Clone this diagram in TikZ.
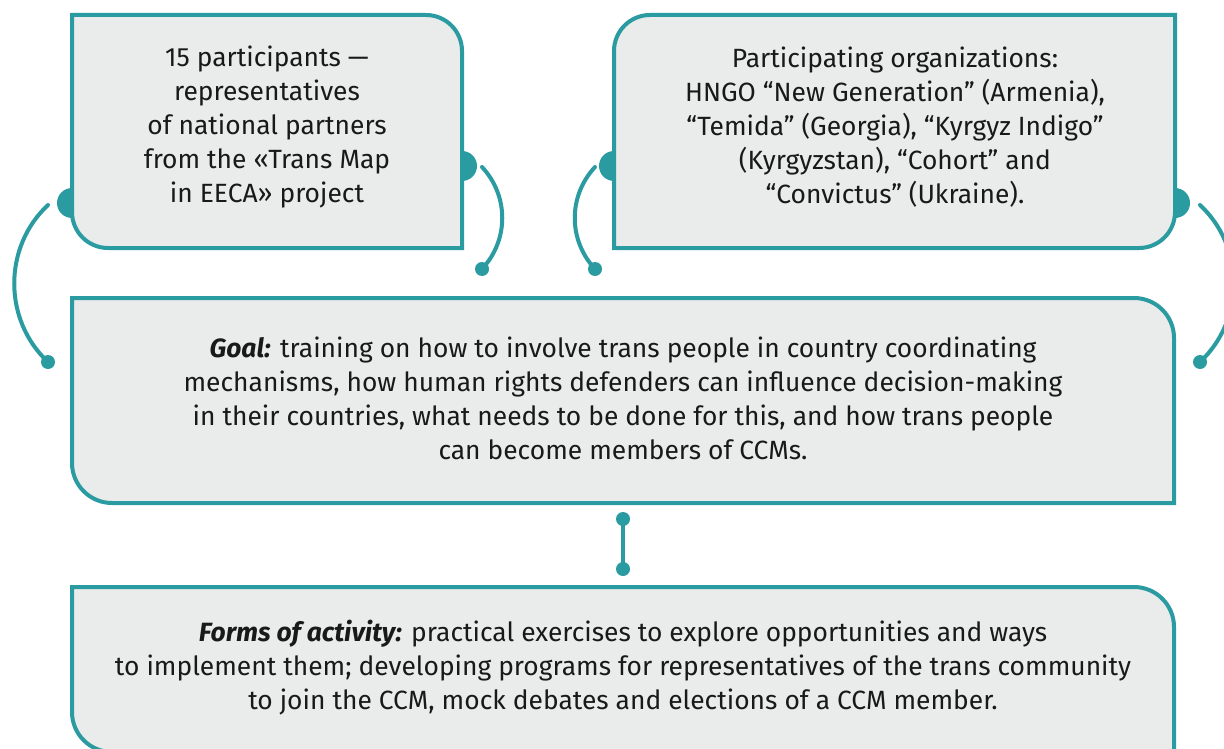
\documentclass[tikz,border=0pt]{standalone}
\usepackage{fontspec}
\setmainfont{Fira Sans}
\definecolor{tealline}{HTML}{2A9BA0}
\definecolor{boxgray}{HTML}{EAEBEB}
\tikzset{
  box/.style={draw=tealline, fill=boxgray, line width=3pt},
  link/.style={draw=tealline, line width=3pt, line cap=round},
  txt/.style={align=center, text=black!90, font=\fontsize{19.8}{25.5}\selectfont}
}

\begin{document}
\begin{tikzpicture}[x=0.75pt,y=-0.75pt]
	\useasboundingbox (0,0) rectangle (1224,749);
	% bumps on the box edges
	\fill[tealline] (72,203) circle[radius=15];
	\fill[tealline] (462,166) circle[radius=15];
	\fill[tealline] (614,166) circle[radius=15];
	\fill[tealline] (1175,203) circle[radius=15];
	% boxes
	\draw[box] (72,15) -- (426,15) arc[start angle=-90,end angle=0,radius=36] -- (462,248) -- (108,248) arc[start angle=90,end angle=180,radius=36] -- cycle;
	\draw[box] (650,15) -- (1175,15) -- (1175,212) arc[start angle=0,end angle=90,radius=36] -- (614,248) -- (614,51) arc[start angle=180,end angle=270,radius=36] -- cycle;
	\draw[box] (72,298) -- (1134,298) arc[start angle=-90,end angle=0,radius=40] -- (1174,503) -- (112,503) arc[start angle=90,end angle=180,radius=40] -- cycle;
	\draw[box] (72,587) -- (1134,587) arc[start angle=-90,end angle=0,radius=40] -- (1174,752) -- (112,752) arc[start angle=90,end angle=180,radius=40] -- cycle;
	% texts
	\node[txt] (parts) at (267,127) {15 participants —\\representatives\\of national partners\\from the «Trans Map\\in EECA» project};
	\node[txt] (orgs) at (895,127) {Participating organizations:\\HNGO “New Generation” (Armenia),\\“Temida” (Georgia), “Kyrgyz Indigo”\\(Kyrgyzstan), “Cohort” and\\“Convictus” (Ukraine).};
	\node[txt] (goal) at (623,398) {\textbf{\textit{Goal:}} training on how to involve trans people in country coordinating\\mechanisms, how human rights defenders can influence decision-making\\in their countries, what needs to be done for this, and how trans people\\can become members of CCMs.};
	\node[txt] (forms) at (623,668) {\textbf{\textit{Forms of activity:}} practical exercises to explore opportunities and ways\\to implement them; developing programs for representatives of the trans community\\to join the CCM, mock debates and elections of a CCM member.};
	% connectors
	\coordinate (ls) at (48,205);
	\coordinate (le) at (48,362);
	\coordinate (ms) at (482,167);
	\coordinate (me) at (482,269);
	\coordinate (ns) at (595,167);
	\coordinate (ne) at (595,269);
	\coordinate (rs) at (1200,205);
	\coordinate (re) at (1200,362);
	\coordinate (vs) at (623,519);
	\coordinate (ve) at (623,569);
	\draw[link] (ls) .. controls +(-45,42) and +(-45,-42) .. (le);
	\draw[link] (ms) .. controls +(27,29) and +(27,-29) .. (me);
	\draw[link] (ns) .. controls +(-27,29) and +(-27,-29) .. (ne);
	\draw[link] (rs) .. controls +(45,42) and +(45,-42) .. (re);
	\draw[link] (vs) -- (ve);
	\foreach \d in {le,me,ne,re,vs,ve}
		\fill[tealline] (\d) circle[radius=7];
\end{tikzpicture}
\end{document}
